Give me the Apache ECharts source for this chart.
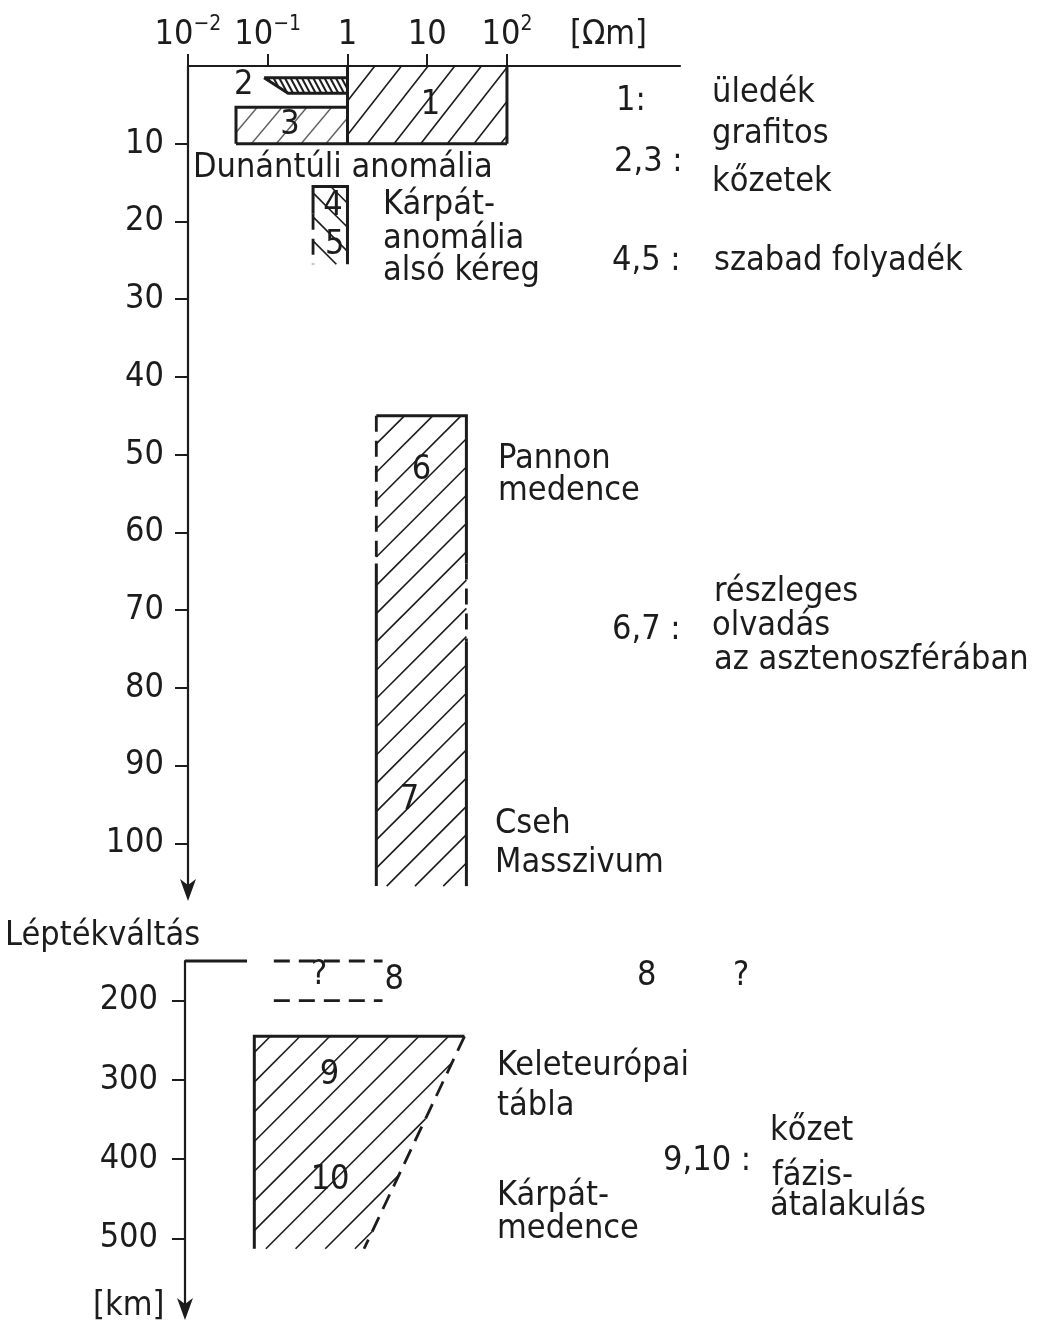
<!DOCTYPE html>
<html>
<head>
<meta charset="utf-8">
<script src="https://cdn.jsdelivr.net/npm/echarts@6/dist/echarts.min.js"></script>
<style>
  html, body { margin: 0; padding: 0; background: #fff; }
  #chart { width: 1041px; height: 1324px; }
</style>
</head>
<body>
<div id="chart"></div>
<script>
// ---- Data: resistivity [Ωm] on a log scale, depth [km] downward ----
const resistivityTicks = [0.01, 0.1, 1, 10, 100];
const depthTicksUpper = [10, 20, 30, 40, 50, 60, 70, 80, 90, 100];
const depthTicksLower = [200, 300, 400, 500];

// Zone polygons as [resistivity, depth] corners
const zone1 = [[1, 0], [100, 0], [100, 10], [1, 10]];                 // üledék
const zone2 = [[0.09, 1.5], [1, 1.5], [1, 3.5], [0.18, 3.5]];         // grafitos kőzetek
const zone3 = [[0.04, 5.3], [1, 5.3], [1, 10], [0.04, 10]];           // grafitos kőzetek
const zone45 = [[0.37, 15.5], [1, 15.5], [1, 25.5], [0.37, 25.5]];    // szabad folyadék
const zone67 = [[2.3, 45], [31, 45], [31, 105.5], [2.3, 105.5]];      // részleges olvadás
const zone910 = [[0.074, 245], [32, 245], [1.76, 513], [0.074, 513]]; // fázisátalakulás

// Zone boundaries drawn as lines: solid and uncertain (dashed)
const solidUpper = [
  [[1, 0], [1, 10]], [[100, 0], [100, 10]], [[0.04, 10], [100, 10]],
  [[0.04, 10], [0.04, 5.3], [1, 5.3]],
  [[0.09, 1.5], [1, 1.5], [1, 3.5], [0.18, 3.5], [0.09, 1.5]],
  [[0.37, 19], [0.37, 15.5], [1, 15.5], [1, 25.5]],
  [[2.3, 64], [2.3, 105.5]], [[31, 64], [31, 45], [2.3, 45]], [[31, 74], [31, 105.5]]
];
const dashedUpper = [[[0.37, 19], [0.37, 25.5]], [[2.3, 45], [2.3, 64]], [[31, 64], [31, 74]]];
const solidLower = [[[0.074, 513], [0.074, 245], [32, 245]], [[0.01, 150], [0.06, 150]]];
const dashedLower = [[[0.13, 150], [3, 150]], [[0.13, 200], [3, 200]], [[32, 245], [1.76, 513]]];

// Zone numbers: [resistivity, depth, number]
const numbersUpper = [[11, 5, '1'], [0.05, 2.5, '2'], [0.19, 7.6, '3'], [0.66, 18, '4'],
                      [0.69, 23, '5'], [8.5, 52, '6'], [6, 94.5, '7']];
const numbersLower = [[0.48, 168, '?'], [4.2, 174, '8'], [0.65, 294, '9'], [0.66, 426, '10']];

// ---- Drawing ----
const FONT = "'DejaVu Sans Condensed', 'DejaVu Sans', sans-serif";
const FS = 34;
const INK = '#1c1c1c';
const X_MAX = Math.pow(10, 4.17);

// hatch style per polygon: angle (deg, screen), perpendicular spacing, width, opacity
const upperZones = [
  { poly: zone1, angle: 52, gap: 21, w: 1.6, op: 1 },
  { poly: zone2, angle: -62, gap: 5, w: 2, op: 1 },
  { poly: zone3, angle: 50, gap: 19, w: 1.4, op: 0.7 },
  { poly: zone45, angle: -45, gap: 17, w: 1.6, op: 1 },
  { poly: zone67, angle: 45, gap: 20, w: 1.6, op: 1 }
];
const lowerZones = [
  { poly: zone910, angle: 45, gap: 21, w: 1.6, op: 1 }
];

function hatchSegments(poly, angleDeg, spacing) {
  const a = angleDeg * Math.PI / 180;
  const d = [Math.cos(a), -Math.sin(a)];
  const n = [-d[1], d[0]];
  let cmin = Infinity, cmax = -Infinity;
  poly.forEach(p => {
    const c = n[0] * p[0] + n[1] * p[1];
    cmin = Math.min(cmin, c); cmax = Math.max(cmax, c);
  });
  const segs = [];
  for (let c = Math.ceil(cmin / spacing) * spacing; c <= cmax; c += spacing) {
    const pts = [];
    for (let i = 0; i < poly.length; i++) {
      const p1 = poly[i], p2 = poly[(i + 1) % poly.length];
      const s1 = n[0] * p1[0] + n[1] * p1[1] - c;
      const s2 = n[0] * p2[0] + n[1] * p2[1] - c;
      if ((s1 < 0 && s2 >= 0) || (s1 >= 0 && s2 < 0)) {
        const t = s1 / (s1 - s2);
        pts.push([p1[0] + t * (p2[0] - p1[0]), p1[1] + t * (p2[1] - p1[1])]);
      }
    }
    pts.sort((u, v) => (u[0] * d[0] + u[1] * d[1]) - (v[0] * d[0] + v[1] * d[1]));
    for (let k = 0; k + 1 < pts.length; k += 2) segs.push([pts[k], pts[k + 1]]);
  }
  return segs;
}

function hatchSeries(zones, gridIndex) {
  return {
    type: 'custom', xAxisIndex: gridIndex, yAxisIndex: gridIndex, clip: false, silent: true,
    data: zones.map((z, i) => [z.poly[0][0], z.poly[0][1], i]),
    renderItem: function (params, api) {
      const z = zones[api.value(2)];
      const px = z.poly.map(p => api.coord(p));
      const children = hatchSegments(px, z.angle, z.gap).map(s => ({
        type: 'line',
        shape: { x1: s[0][0], y1: s[0][1], x2: s[1][0], y2: s[1][1] },
        style: { stroke: INK, lineWidth: z.w, opacity: z.op }
      }));
      return { type: 'group', children: children };
    }
  };
}

function outlineSeries(lines, gridIndex, dashed) {
  return {
    type: 'custom', xAxisIndex: gridIndex, yAxisIndex: gridIndex, clip: false, silent: true,
    data: lines.map((l, i) => [l[0][0], l[0][1], i]),
    renderItem: function (params, api) {
      const pts = lines[api.value(2)].map(p => api.coord(p));
      return {
        type: 'polyline',
        shape: { points: pts },
        style: {
          stroke: INK, fill: null, lineWidth: dashed ? 2.8 : 3,
          lineDash: dashed ? [16, 9] : null, lineCap: 'butt', lineJoin: 'miter'
        }
      };
    }
  };
}

function numberSeries(items, gridIndex) {
  return {
    type: 'scatter', xAxisIndex: gridIndex, yAxisIndex: gridIndex, clip: false, silent: true,
    symbolSize: 0,
    itemStyle: { opacity: 1 },
    data: items.map(t => ({ value: [t[0], t[1]], name: t[2] })),
    label: {
      show: true, position: 'inside', formatter: '{b}', opacity: 1,
      fontFamily: FONT, fontSize: FS, color: INK
    }
  };
}

// every tick label carries an exponent slot so that the base digits share one baseline
function supLabel(v) {
  if (v === 0.01) return '{b|10}{s|−2}';
  if (v === 0.1) return '{b|10}{s|−1}';
  if (v === 100) return '{b|10}{s|2}';
  return '{b|' + v + '}{s|\u200b}';
}

// notched arrow head at the deep end of each depth axis
const arrowPath = 'path://M8,0 L16,22 L8,16 L0,22 Z';

const axisText = { fontFamily: FONT, fontSize: FS, color: INK };

const option = {
  backgroundColor: '#ffffff',
  animation: false,
  grid: [
    { left: 188, top: 66, width: 492, height: 824 },
    { left: 185, top: 961, width: 492, height: 348 }
  ],
  xAxis: [
    {
      gridIndex: 0, type: 'log', logBase: 10, position: 'top', min: 0.01, max: X_MAX,
      axisLine: { show: true, lineStyle: { color: INK, width: 2.2 } },
      axisTick: { show: true, length: 12, customValues: resistivityTicks, lineStyle: { color: INK, width: 2 } },
      axisLabel: {
        show: true, customValues: resistivityTicks, margin: 9,
        formatter: supLabel,
        rich: {
          b: { fontFamily: FONT, fontSize: FS, color: INK },
          s: { fontFamily: FONT, fontSize: 21, color: INK, verticalAlign: 'top', padding: [0, 0, 22, 0] }
        }
      },
      splitLine: { show: false }, minorTick: { show: false }
    },
    {
      gridIndex: 1, type: 'log', logBase: 10, min: 0.01, max: X_MAX, show: false
    }
  ],
  yAxis: [
    {
      gridIndex: 0, type: 'value', inverse: true, min: 0, max: 106,
      axisLine: { show: true, symbol: [arrowPath, 'none'], symbolSize: [16, 22], symbolOffset: [0, 0],
                  lineStyle: { color: INK, width: 2.2 } },
      axisTick: { show: true, length: 13, customValues: depthTicksUpper, lineStyle: { color: INK, width: 2 } },
      axisLabel: Object.assign({ customValues: depthTicksUpper, margin: 24 }, axisText),
      splitLine: { show: false }
    },
    {
      gridIndex: 1, type: 'value', inverse: true, min: 150, max: 589,
      axisLine: { show: true, symbol: [arrowPath, 'none'], symbolSize: [16, 22], symbolOffset: [0, 0],
                  lineStyle: { color: INK, width: 2.2 } },
      axisTick: { show: true, length: 13, customValues: depthTicksLower, lineStyle: { color: INK, width: 2 } },
      axisLabel: Object.assign({ customValues: depthTicksLower, margin: 27 }, axisText),
      splitLine: { show: false }
    }
  ],
  series: [
    hatchSeries(upperZones, 0),
    hatchSeries(lowerZones, 1),
    outlineSeries(solidUpper, 0, false),
    outlineSeries(dashedUpper, 0, true),
    outlineSeries(solidLower, 1, false),
    outlineSeries(dashedLower, 1, true),
    numberSeries(numbersUpper, 0),
    numberSeries(numbersLower, 1)
  ],
  graphic: []
};

// Explanatory text beside the zones
const notes = [
  ['[Ωm]', 570, 35],
  ['Dunántúli anomália', 193, 168],
  ['Kárpát-', 383, 205], ['anomália', 383, 239], ['alsó kéreg', 383, 271],
  ['1:', 616, 101], ['üledék', 712, 93],
  ['2,3 :', 614, 162], ['grafitos', 712, 134], ['kőzetek', 712, 182],
  ['4,5 :', 612, 261], ['szabad folyadék', 714, 261],
  ['Pannon', 498, 459], ['medence', 498, 491],
  ['részleges', 714, 592], ['6,7 :', 612, 630], ['olvadás', 712, 626], ['az asztenoszférában', 714, 660],
  ['Cseh', 495, 824], ['Masszivum', 495, 863],
  ['Léptékváltás', 5, 936],
  ['8', 637, 976], ['?', 733, 976],
  ['Keleteurópai', 497, 1066], ['tábla', 497, 1106],
  ['9,10 :', 663, 1161], ['kőzet', 770, 1131], ['fázis-', 772, 1176], ['átalakulás', 770, 1206],
  ['Kárpát-', 497, 1196], ['medence', 497, 1229],
  ['[km]', 93, 1306]
];
option.graphic = notes.map(n => ({
  type: 'text', silent: true, x: n[1], y: n[2],
  style: { text: n[0], font: FS + 'px ' + FONT, fill: INK, textAlign: 'left', textVerticalAlign: 'middle' }
}));

const chart = echarts.init(document.getElementById('chart'), null, { renderer: 'canvas' });
chart.setOption(option);
</script>
</body>
</html>
